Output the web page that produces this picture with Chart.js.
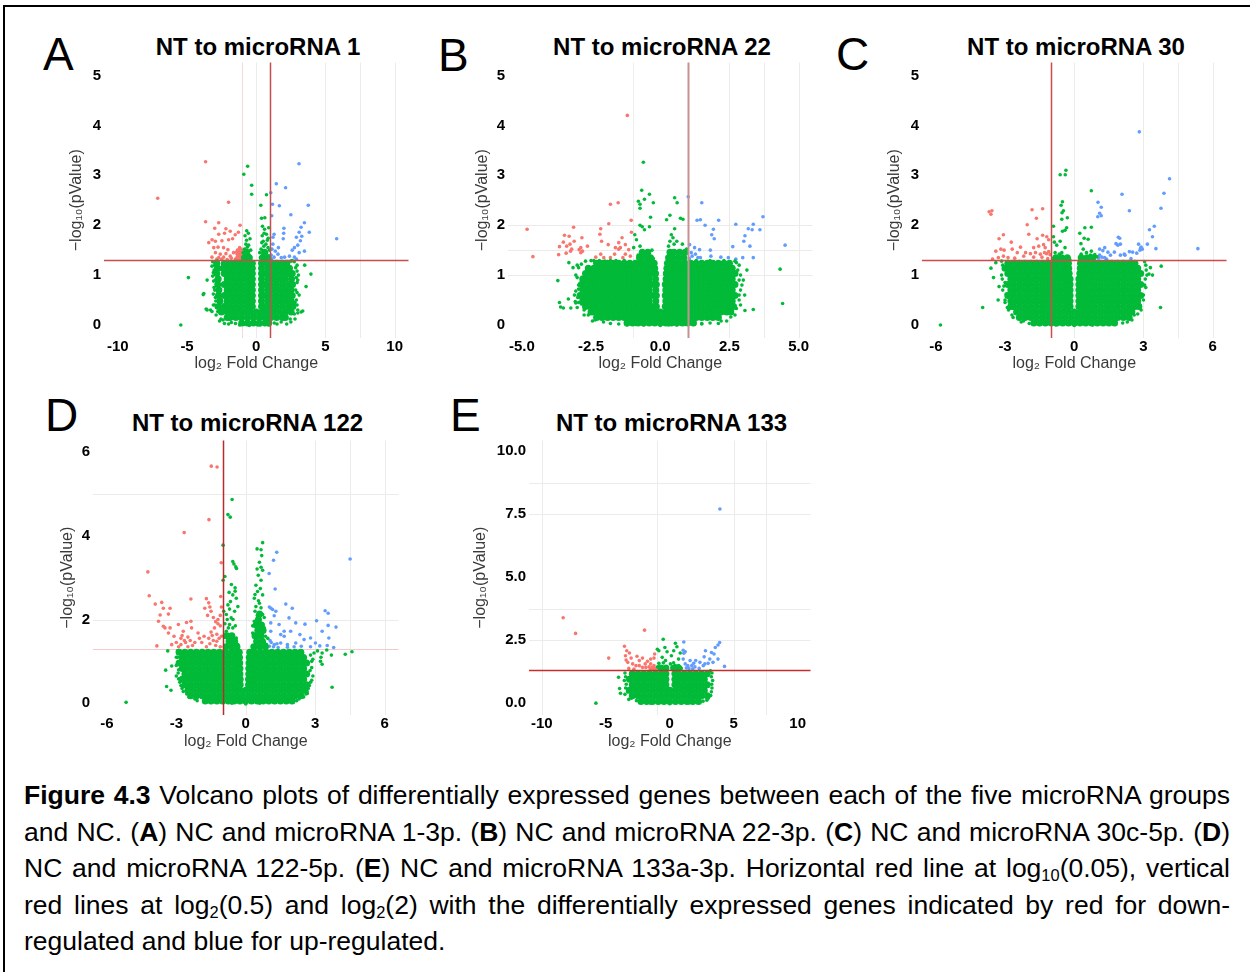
<!DOCTYPE html>
<html>
<head>
<meta charset="utf-8">
<script src="https://cdn.jsdelivr.net/npm/chart.js@4.4.1/dist/chart.umd.min.js"></script>
<style>
  html, body { margin: 0; padding: 0; background: #fff; }
  body { width: 1250px; height: 972px; position: relative; overflow: hidden;
         font-family: "Liberation Sans", Arial, sans-serif; color: #000; }
  .frame { position: absolute; left: 3px; top: 5px; width: 1260px; height: 980px;
           border-top: 2px solid #000; border-left: 2px solid #000; }
  .letter { position: absolute; font-size: 46px; line-height: 46px; }
  .ptitle { position: absolute; width: 400px; text-align: center; font-size: 24px;
            line-height: 24px; font-weight: bold; white-space: nowrap; }
  canvas { position: absolute; }
  .caption { position: absolute; left: 24px; top: 777px; width: 1206px;
             font-size: 26.5px; line-height: 36.6px; }
  .caption div { text-align: justify; text-align-last: justify; white-space: nowrap; height: 36.6px; }
  .caption div.last { text-align-last: left; }
  .caption sub { font-size: 0.62em; line-height: 0; vertical-align: -0.22em; }
</style>
</head>
<body>
<div class="frame"></div>

<div class="caption">
  <div><b>Figure 4.3</b> Volcano plots of differentially expressed genes between each of the five microRNA groups</div>
  <div>and NC. (<b>A</b>) NC and microRNA 1-3p. (<b>B</b>) NC and microRNA 22-3p. (<b>C</b>) NC and microRNA 30c-5p. (<b>D</b>)</div>
  <div>NC and microRNA 122-5p. (<b>E</b>) NC and microRNA 133a-3p. Horizontal red line at log<sub>10</sub>(0.05), vertical</div>
  <div>red lines at log<sub>2</sub>(0.5) and log<sub>2</sub>(2) with the differentially expressed genes indicated by red for down-</div>
  <div class="last">regulated and blue for up-regulated.</div>
</div>

<script>
// ---- thresholds ----
const pCut = -Math.log10(0.05);      // p = 0.05
const fcDown = -1, fcUp = 1;         // log2(0.5), log2(2)

// ---- axis ticks ----
const xTicksA = [-10, -5, 0, 5, 10], yTicksA = [0, 1, 2, 3, 4, 5];
const xTicksB = [-5, -2.5, 0, 2.5, 5], yTicksB = [0, 1, 2, 3, 4, 5];
const xTicksC = [-6, -3, 0, 3, 6],   yTicksC = [0, 1, 2, 3, 4, 5];
const xTicksD = [-6, -3, 0, 3, 6],   yTicksD = [0, 2, 4, 6];
const xTicksE = [-10, -5, 0, 5, 10], yTicksE = [0, 2.5, 5, 7.5, 10];

// ---- genes: dense non-significant bulk, rows of [-log10 p, log2FC...] ----
const coreA = [
  [0.04,-1.05,-0.63,-0.21,0.21,0.63,0.9],
  [0.15,-2.1,-1.89,-1.47,-1.05,-0.63,-0.21,0.21,0.63,1.05,1.47,1.89,2.1],
  [0.26,-2.52,-2.1,-1.68,-1.26,-0.84,-0.42,0,0.42,0.84,1.26,1.68,2.1,2.52],
  [0.37,-2.73,-2.31,-1.89,-1.47,-1.05,-0.63,-0.28,0.38,0.63,1.05,1.47,1.89,2.31,2.65],
  [0.48,-2.62,-2.1,-1.68,-1.26,-0.84,-0.42,-0.28,0.38,0.84,1.26,1.68,2.1,2.52],
  [0.59,-2.73,-2.31,-1.89,-1.47,-1.05,-0.63,-0.28,0.38,0.63,1.05,1.47,1.89,2.31,2.6],
  [0.70,-2.7,-2.1,-1.68,-1.26,-0.84,-0.42,-0.28,0.38,0.84,1.26,1.68,2.1,2.52],
  [0.81,-2.78,-2.31,-1.89,-1.47,-1.05,-0.63,-0.28,0.38,0.63,1.05,1.47,1.89,2.31,2.62],
  [0.92,-2.75,-2.1,-1.68,-1.26,-0.84,-0.42,-0.28,0.38,0.84,1.26,1.68,2.1,2.55],
  [1.03,-2.85,-2.31,-1.89,-1.47,-1.05,-0.63,-0.28,0.38,0.63,1.05,1.47,1.89,2.31,2.6],
  [1.14,-2.8,-2.4,-2.1,-1.68,-1.26,-0.84,-0.42,-0.28,0.38,0.84,1.26,1.68,2.1,2.4],
  [1.24,-2.85,-2.31,-1.89,-1.47,-1.05,-0.63,-0.28,0.38,0.63,1.05,1.47,1.89,2.2],
  [1.35,-0.85,-0.5,0.45,0.85],
  [1.46,-0.7,0.6]
];
const coreB = [
  [0.04,-1.2,-1,-0.8,-0.6,-0.4,-0.2,0,0.2,0.4,0.6,0.8,1,1.2],
  [0.15,-2.3,-2.1,-1.9,-1.7,-1.5,-1.3,-1.1,-0.9,-0.7,-0.5,-0.3,-0.1,0.1,0.3,0.5,0.7,0.9,1.1,1.3,1.5,1.7,1.9,2.1],
  [0.26,-2.5,-2.4,-2.2,-2,-1.8,-1.6,-1.4,-1.2,-1,-0.8,-0.6,-0.4,-0.2,0,0.2,0.4,0.6,0.8,1,1.2,1.4,1.6,1.8,2,2.2,2.4,2.55],
  [0.37,-2.7,-2.5,-2.3,-2.1,-1.9,-1.7,-1.5,-1.3,-1.1,-0.9,-0.7,-0.5,-0.3,-0.14,0.18,0.3,0.5,0.7,0.9,1.1,1.3,1.5,1.7,1.9,2.1,2.3,2.5,2.65],
  [0.48,-2.8,-2.6,-2.4,-2.2,-2,-1.8,-1.6,-1.4,-1.2,-1,-0.8,-0.6,-0.4,-0.16,0.2,0.4,0.6,0.8,1,1.2,1.4,1.6,1.8,2,2.2,2.4,2.6],
  [0.59,-2.9,-2.7,-2.5,-2.3,-2.1,-1.9,-1.7,-1.5,-1.3,-1.1,-0.9,-0.7,-0.5,-0.3,-0.14,0.18,0.3,0.5,0.7,0.9,1.1,1.3,1.5,1.7,1.9,2.1,2.3,2.5,2.7],
  [0.70,-2.8,-2.6,-2.4,-2.2,-2,-1.8,-1.6,-1.4,-1.2,-1,-0.8,-0.6,-0.4,-0.16,0.2,0.4,0.6,0.8,1,1.2,1.4,1.6,1.8,2,2.2,2.4,2.6],
  [0.81,-2.85,-2.7,-2.5,-2.3,-2.1,-1.9,-1.7,-1.5,-1.3,-1.1,-0.9,-0.7,-0.5,-0.3,-0.14,0.18,0.3,0.5,0.7,0.9,1.1,1.3,1.5,1.7,1.9,2.1,2.3,2.5,2.7],
  [0.92,-2.8,-2.6,-2.4,-2.2,-2,-1.8,-1.6,-1.4,-1.2,-1,-0.8,-0.6,-0.4,-0.17,0.21,0.4,0.6,0.8,1,1.2,1.4,1.6,1.8,2,2.2,2.4,2.6],
  [1.03,-2.7,-2.5,-2.3,-2.1,-1.9,-1.7,-1.5,-1.3,-1.1,-0.9,-0.7,-0.5,-0.3,-0.17,0.22,0.35,0.5,0.7,0.9,1.1,1.3,1.5,1.7,1.9,2.1,2.3,2.5,2.7],
  [1.14,-2.6,-2.4,-2.2,-2,-1.8,-1.6,-1.4,-1.2,-1,-0.8,-0.6,-0.4,-0.2,0.24,0.4,0.6,0.8,1,1.2,1.4,1.6,1.8,2,2.2,2.4,2.6],
  [1.24,-2.3,-2.1,-1.9,-1.7,-1.5,-1.3,-1.1,-0.9,-0.7,-0.5,-0.35,-0.22,0.26,0.38,0.5,0.7,0.9,1.1,1.3,1.5,1.7,1.9,2.1,2.3,2.5],
  [1.35,-0.75,-0.55,-0.35,0.3,0.45,0.65,0.85],
  [1.46,-0.65,-0.45,0.35,0.5,0.7,0.9]
];
const coreC = [
  [0.04,-1.75,-1.5,-1.25,-1,-0.75,-0.5,-0.25,0,0.25,0.5,0.75,1,1.25,1.5,1.75],
  [0.15,-2.38,-2.13,-1.88,-1.63,-1.38,-1.13,-0.88,-0.63,-0.38,-0.13,0.13,0.38,0.63,0.88,1.13,1.38,1.63,1.88,2.13,2.38],
  [0.26,-2.5,-2.25,-2,-1.75,-1.5,-1.25,-1,-0.75,-0.5,-0.25,0,0.25,0.5,0.75,1,1.25,1.5,1.75,2,2.25,2.5],
  [0.37,-2.75,-2.63,-2.38,-2.13,-1.88,-1.63,-1.38,-1.13,-0.88,-0.63,-0.38,-0.18,0.2,0.38,0.63,0.88,1.13,1.38,1.63,1.88,2.13,2.38,2.63,2.8],
  [0.48,-2.75,-2.5,-2.25,-2,-1.75,-1.5,-1.25,-1,-0.75,-0.5,-0.32,-0.18,0.2,0.34,0.5,0.75,1,1.25,1.5,1.75,2,2.25,2.5,2.75],
  [0.59,-2.88,-2.63,-2.38,-2.13,-1.88,-1.63,-1.38,-1.13,-0.88,-0.63,-0.38,-0.18,0.2,0.38,0.63,0.88,1.13,1.38,1.63,1.88,2.13,2.38,2.63,2.88],
  [0.70,-2.75,-2.5,-2.25,-2,-1.75,-1.5,-1.25,-1,-0.75,-0.5,-0.32,-0.18,0.2,0.34,0.5,0.75,1,1.25,1.5,1.75,2,2.25,2.5,2.75],
  [0.81,-2.88,-2.63,-2.38,-2.13,-1.88,-1.63,-1.38,-1.13,-0.88,-0.63,-0.38,-0.18,0.2,0.38,0.63,0.88,1.13,1.38,1.63,1.88,2.13,2.38,2.63,2.88],
  [0.92,-2.75,-2.5,-2.25,-2,-1.75,-1.5,-1.25,-1,-0.75,-0.5,-0.32,-0.18,0.2,0.34,0.5,0.75,1,1.25,1.5,1.75,2,2.25,2.5,2.75],
  [1.03,-2.88,-2.63,-2.38,-2.13,-1.88,-1.63,-1.38,-1.13,-0.88,-0.63,-0.4,-0.22,0.24,0.42,0.63,0.88,1.13,1.38,1.63,1.88,2.13,2.38,2.63,2.88],
  [1.14,-3,-2.75,-2.5,-2.25,-2,-1.75,-1.5,-1.25,-1,-0.75,-0.5,-0.38,-0.24,0.26,0.4,0.5,0.75,1,1.25,1.5,1.75,2,2.25,2.5,2.75],
  [1.24,-2.88,-2.63,-2.38,-2.13,-1.88,-1.63,-1.38,-1.13,-0.88,-0.63,-0.42,-0.25,0.27,0.44,0.63,0.88,1.13,1.38,1.63,1.88,2.13,2.38,2.63],
  [1.35,-0.8,-0.55,-0.3,0.3,0.55,0.8]
];
const coreD = [
  [0.05,-1.75,-1.5,-1.25,-1,-0.75,-0.5,-0.25,0,0.25,0.5,0.75,1,1.25,1.5,1.75,2],
  [0.18,-2.38,-2.13,-1.88,-1.63,-1.38,-1.13,-0.88,-0.63,-0.38,-0.13,0.13,0.38,0.63,0.88,1.13,1.38,1.63,1.88,2.13,2.38],
  [0.31,-2.5,-2.25,-2,-1.75,-1.5,-1.25,-1,-0.75,-0.5,-0.25,0,0.25,0.5,0.75,1,1.25,1.5,1.75,2,2.25,2.5],
  [0.44,-2.63,-2.38,-2.13,-1.88,-1.63,-1.38,-1.13,-0.88,-0.63,-0.38,-0.24,0.12,0.28,0.38,0.63,0.88,1.13,1.38,1.63,1.88,2.13,2.38,2.63],
  [0.57,-2.75,-2.5,-2.25,-2,-1.75,-1.5,-1.25,-1,-0.75,-0.5,-0.36,-0.24,0.12,0.28,0.5,0.75,1,1.25,1.5,1.75,2,2.25,2.5],
  [0.70,-2.63,-2.38,-2.13,-1.88,-1.63,-1.38,-1.13,-0.88,-0.63,-0.38,-0.25,0.13,0.28,0.38,0.63,0.88,1.13,1.38,1.63,1.88,2.13,2.38,2.63],
  [0.83,-2.75,-2.5,-2.25,-2,-1.75,-1.5,-1.25,-1,-0.75,-0.5,-0.36,-0.25,0.13,0.28,0.5,0.75,1,1.25,1.5,1.75,2,2.25,2.5],
  [0.96,-2.88,-2.63,-2.38,-2.13,-1.88,-1.63,-1.38,-1.13,-0.88,-0.63,-0.38,-0.26,0.14,0.3,0.38,0.63,0.88,1.13,1.38,1.63,1.88,2.13,2.38,2.63],
  [1.09,-2.75,-2.5,-2.25,-2,-1.75,-1.5,-1.25,-1,-0.75,-0.5,-0.38,-0.27,0.15,0.3,0.5,0.75,1,1.25,1.5,1.75,2,2.25,2.5],
  [1.22,-2.88,-2.63,-2.38,-2.13,-1.88,-1.63,-1.38,-1.13,-0.88,-0.63,-0.4,-0.28,0.17,0.32,0.38,0.63,0.88,1.13,1.38,1.63,1.88,2.13,2.38],
  [1.35,-0.85,-0.6,-0.38,0.35,0.6,0.85],
  [1.48,-0.72,-0.48,0.47,0.72],
  [1.61,-0.85,-0.6,0.4,0.65],
  [1.74,0.52,0.75],
  [1.87,0.45,0.68],
  [2.0,0.55],
  [2.13,0.6]
];
const coreE = [
  [0.07,-2.25,-1.8,-1.35,-0.9,-0.45,0,0.45,0.9,1.35,1.8,2.25],
  [0.29,-2.93,-2.48,-2.03,-1.58,-1.13,-0.68,-0.23,0.23,0.68,1.13,1.58,2.03,2.48,2.93],
  [0.51,-3.15,-2.7,-2.25,-1.8,-1.35,-0.9,-0.45,0,0.45,0.9,1.35,1.8,2.25,2.7],
  [0.73,-2.93,-2.48,-2.03,-1.58,-1.13,-0.68,-0.3,0.4,0.68,1.13,1.58,2.03,2.48,2.93],
  [0.95,-3.15,-2.7,-2.25,-1.8,-1.35,-0.9,-0.55,-0.3,0.4,0.65,0.9,1.35,1.8,2.25,2.7],
  [1.17,-2.93,-2.48,-2.03,-1.58,-1.13,-0.68,-0.3,0.4,0.68,1.13,1.58,2.03,2.48,2.93],
  [1.4,-0.7,-0.3,0.3,0.7]
];

// ---- genes: scattered non-significant points, flat [log2FC, -log10 p, ...] ----
const greenA = [-0.62,3.18,-0.9,3.02,-0.33,2.8,-0.33,2.62,0.74,2.61,0.33,2.4,0.38,2.14,0.62,2.15,-0.69,1.89,-0.57,1.84,-0.81,1.79,-0.45,1.73,0.57,1.84,0.43,1.79,0.74,1.82,0.86,1.74,
  -0.9,1.35,-0.8,1.42,-0.7,1.36,-0.6,1.48,-0.5,1.4,-0.85,1.52,-0.65,1.56,-0.45,1.33,-0.75,1.62,-0.55,1.6,-0.95,1.45,-0.4,1.5,-0.7,1.7,
  0.3,1.35,0.45,1.4,0.6,1.33,0.75,1.45,0.9,1.38,0.35,1.52,0.55,1.58,0.7,1.62,0.85,1.55,0.5,1.68,0.95,1.5,0.25,1.45,0.65,1.48,0.4,1.65,0.8,1.7,0.6,1.92,0.9,1.95,0.45,1.98,
  -3,1.2,-3.1,1.05,-2.95,0.9,-3.05,0.75,-2.95,0.55,-3,0.4,-2.9,0.2,-2.8,1.28,-2.65,0.08,-2.3,0.03,-2,0.02,
  -3.15,1.27,-3.2,1.18,-3.05,1.1,-3.15,0.98,-3.08,0.88,-3,0.7,-3.1,0.62,-2.92,0.48,-2.88,0.35,-2.78,0.27,-2.55,0.12,-2.4,0.1,-1.8,0.05,-1.5,0.03,
  2.95,1.2,3.05,1,2.95,0.85,3.1,0.6,2.9,0.5,3,0.3,2.8,0.12,2.5,0.06,2.2,0.02,2.75,1.27,2.5,1.28,
  2.6,1.29,2.85,1.15,2.95,1.08,2.9,0.95,3,0.9,2.85,0.7,2.95,0.65,2.8,0.45,2.95,0.4,2.75,0.22,2.45,0.12,1.8,0.06,1.3,0.04,
  -1.2,0,-0.5,-0.01,0.3,0,0.9,0,1.5,0.02,-0.9,0.01,0.1,0,0.6,0.01,
  -5.45,0,-4.9,0.95,-3.83,0.61,-3.55,0.9,-3.62,0.32,-3.3,0.3,-3.1,0.4,-3.79,0.63,-3.55,0.3,-3.2,0.27,3.95,1.02,3.6,0.77,3.36,0.28,3,0.24,3.24,0.26,3.5,1.2];
const greenB = [-0.61,3.26,-0.67,2.7,-0.39,2.62,-0.57,2.52,-0.25,2.45,-0.73,2.42,-0.79,2.48,-0.73,2.34,0.52,2.55,0.61,2.45,0.35,2.2,0.23,2.11,0.73,2.14,0.82,2.12,-0.35,2.16,
  -0.73,2,-0.65,1.97,-0.57,1.91,-0.39,1.97,0.52,1.93,0.4,1.81,0.46,1.75,0.35,1.68,-0.92,1.81,-0.86,1.71,-0.73,1.58,-0.67,1.48,-0.96,1.55,-0.8,1.4,-0.25,1.33,-0.3,1.5,
  0.95,1.52,0.3,1.58,0.5,1.62,0.8,1.62,0.6,1.68,
  -3,1.2,-3.05,1,-2.95,0.8,-3.1,0.6,-2.95,0.45,-3,0.35,-2.75,0.2,-2.45,0.08,-2.7,1.28,-2.5,1.29,-2.2,1.29,-1.8,1.29,
  -2.95,1.15,-2.85,1.22,-3,0.95,-2.95,0.72,-3.05,0.68,-2.98,0.55,-2.85,0.42,-2.75,0.3,-2.6,0.2,-2.35,0.1,-2.05,0.06,-2.4,1.29,-2,1.28,-1.6,1.29,-1.3,1.29,
  2.85,1.2,2.9,1,2.95,0.8,2.85,0.6,2.9,0.4,2.7,0.2,2.4,0.08,2.1,0.03,2.7,1.28,
  2.75,1.25,2.8,1.1,2.85,0.9,2.9,0.7,2.85,0.5,2.75,0.33,2.55,0.16,2.2,0.08,1.5,0.03,1.3,1.29,1.8,1.29,2.3,1.29,
  -1.8,0.03,-1.2,0,-0.6,0,0,-0.01,0.6,0,1.2,0.01,1.8,0.04,-1.5,0.02,-0.9,0.01,0.3,0,0.9,0.01,1.5,0.02,
  -3.7,0.89,-3.64,0.45,-3.6,0.36,-3.5,0.34,-3.32,0.52,-3.07,0.47,-3.05,0.44,-3.23,0.34,-2.55,0.33,-3.3,1.25,-3.15,1.15,
  4.33,1.12,4.42,0.43,3.36,0.31,3.06,0.29,3.13,1.1,3,0.9,3.05,0.6];
const greenC = [-0.36,3.1,-0.61,3.01,-0.39,3.01,0.74,2.69,-0.51,2.47,-0.57,2.4,-0.47,2.29,-0.53,2.25,-0.3,2.15,-0.54,2.12,-0.9,1.98,-0.4,1.9,-0.51,1.88,-0.33,1.95,
  0.46,1.95,0.74,1.96,0.24,1.84,0.43,1.74,0.6,1.72,0.29,1.63,-0.9,1.77,-0.86,1.66,-0.76,1.6,-0.61,1.68,-0.4,1.55,-0.54,1.45,-0.83,1.45,
  0.39,1.52,0.53,1.45,0.74,1.48,0.89,1.41,0.98,1.37,-0.9,1.33,-0.65,1.42,-0.2,1.32,0.7,1.4,0.3,1.42,
  -3.1,1.2,-3.15,1,-3,0.85,-3.1,0.7,-3,0.5,-2.9,0.35,-2.7,0.2,-2.3,0.06,-3.4,1.25,
  -3.15,1.28,-3.05,1.12,-3.12,0.92,-3.05,0.78,-2.95,0.62,-3,0.45,-2.85,0.3,-2.65,0.15,-2.2,0.08,-1.95,0.03,
  3.1,1.2,3.15,1,3.05,0.8,3,0.6,2.85,0.4,2.6,0.2,2.3,0.06,3.3,1.15,
  3.05,1.27,3.12,1.1,3.08,0.92,3.1,0.75,3,0.5,2.9,0.3,2.75,0.22,2.5,0.1,2.1,0.04,
  -1.5,0.01,-0.8,0,0,-0.01,0.8,0,1.5,0.02,
  -5.8,0,-3.97,0.35,-3.61,1.14,3.74,0.35,3.77,1.18,3.39,1,3.24,1.02,-3.26,0.77,-3.5,0.95,-3.3,0.5];
const greenD = [-0.59,4.87,-0.77,4.51,-0.67,4.45,-0.98,3.78,-0.56,3.39,-0.51,3.33,-0.43,3.26,-0.4,3.22,-0.98,2.94,-0.9,3.03,-0.62,2.84,-0.46,2.76,-0.46,2.68,-0.72,2.65,
  -0.56,2.59,-0.41,2.51,-0.66,2.43,-0.34,2.31,-0.77,2.35,-0.48,2.2,-0.84,2.12,-0.63,2.04,-0.7,1.88,-0.56,1.8,-0.84,1.72,-0.41,1.56,-0.7,1.48,-0.34,1.4,
  -0.9,1.6,-0.75,1.65,-0.45,1.85,-0.9,1.9,-0.8,2,-0.55,2,-0.95,2.2,-0.7,2.25,-0.4,1.35,-0.75,1.8,
  0.73,3.84,0.49,3.69,0.66,3.67,0.69,3.53,0.59,3.37,0.66,3.25,0.49,3.21,0.73,3.18,0.54,3.06,0.66,2.94,0.44,2.82,0.63,2.74,0.51,2.67,0.73,2.59,0.37,2.51,
  0.59,2.39,0.44,2.31,0.66,2.28,0.4,2.2,0.73,2.12,0.51,2.04,0.37,1.96,0.66,1.88,0.8,1.8,0.3,1.68,0.8,1.45,0.85,1.6,0.3,1.85,0.6,1.95,0.5,2.1,0.8,2.05,
  0.55,2.45,0.4,2.6,0.9,1.4,0.95,1.55,
  -2.95,1.25,-3,1.1,-2.95,0.95,-2.9,0.8,-3,0.65,-2.85,0.5,-2.75,0.35,-2.55,0.22,-2.2,0.1,
  -2.95,1.1,-3,0.9,-2.92,0.72,-2.9,0.58,-2.8,0.42,-2.7,0.28,-2.45,0.14,-2.1,0.06,-1.5,0.02,
  2.95,1.2,2.9,1.05,2.85,0.85,2.9,0.65,2.8,0.5,2.7,0.35,2.6,0.22,2.3,0.1,3.1,1.25,3.3,1.2,3.5,1.27,3.7,1.15,3.25,1.1,
  2.8,1.15,2.85,1,2.78,0.78,2.85,0.55,2.75,0.42,2.65,0.28,2.5,0.15,2.2,0.06,
  -1.2,0.02,-0.6,0,0,-0.02,0.6,0,1.2,0.02,
  -5.17,0.02,-3.37,1.25,-3.46,0.79,-3.42,0.4,-3.23,0.31,-3.2,0.89,4.3,1.17,4.59,1.23,3.73,0.38,3.3,0.93,3.23,1,2.63,0.32,2.66,0.23];
const greenE = [-0.51,2.54,-0.97,2.14,-0.85,2.08,-0.38,2.21,-0.21,2.04,0.44,2.38,0.56,2.24,0.31,2.08,0.82,1.99,0.13,1.88,0.69,1.75,-0.59,1.82,-0.33,1.69,-0.85,1.58,
  0.05,1.56,0.44,1.49,-0.95,1.44,0.69,1.49,-0.6,1.4,-0.5,1.6,0.3,1.6,0.9,1.38,-0.2,1.38,
  -3.5,1.2,-3.55,0.9,-3.45,0.6,-3.5,0.35,-3.2,0.15,3.3,1.2,3.35,0.9,3.3,0.6,3.2,0.3,2.9,0.12,
  -3.45,1.05,-3.4,0.75,-3.3,0.45,-3,0.2,-2.6,0.1,3.25,1.05,3.28,0.75,3.25,0.45,3,0.2,2.6,0.08,
  -1.5,0,0,-0.02,1.5,0.01,-5.77,0,-4,1.03,-3.92,0.58,-3.85,0.39,3.18,1.29];

// ---- down-regulated genes (log2FC < -1, p < 0.05) ----
const downA = [-3.66,3.27,-7.12,2.54,-2,2.46,-3.66,2.07,-2.71,2.05,-3,1.94,-2.19,1.93,-2.29,1.84,-2.71,1.82,-1.29,1.86,-1.17,2,-1.88,1.88,-1.52,1.81,
  -3.43,1.65,-3.19,1.71,-2.95,1.68,-2.48,1.69,-2,1.71,-1.71,1.73,-3.07,1.55,-2.76,1.56,-2.36,1.55,-2.05,1.51,-2.95,1.45,-2.6,1.42,-2.19,1.43,
  -2.71,1.35,-2.36,1.36,-1.88,1.38,-1.64,1.45,-1.4,1.35,-1.3,1.4,-1.2,1.45,-1.1,1.38,-1.02,1.33,-1.35,1.5,-1.2,1.55,-1.05,1.48,-1.25,1.32,
  -1.03,1.42,-1.15,1.34,-1.38,1.42,-1.3,1.5,-1.1,1.52,-1.42,1.46,-1.18,1.4,-1.08,1.44,-1.28,1.36,-1.5,1.32,-1.8,1.34,-2.1,1.31,-2.5,1.32,-3.2,1.36,-2.85,1.32];
const downB = [-1.19,4.2,-4.81,1.92,-4.6,1.37,-1.8,2.42,-1.52,2.45,-3.13,1.96,-1.86,2.03,-2.15,1.93,-1.05,2.1,-3.46,1.8,-3.29,1.78,-3.11,1.68,-2.83,1.75,
  -2.63,1.58,-3.64,1.57,-3.38,1.58,-3.26,1.62,-3.2,1.52,-3.67,1.41,-3.24,1.48,-2.93,1.51,-2.87,1.45,-2.18,1.82,-2.12,1.68,-1.88,1.61,-1.62,1.55,
  -1.5,1.65,-1.38,1.75,-1.26,1.61,-1.14,1.51,-1.26,1.42,-1.08,1.38,-2.15,1.42,-2.04,1.35,-1.8,1.35,-1.5,1.52,-1.44,1.55,-2.87,1.55,-2.81,1.48,
  -2.33,1.36,-1.04,1.86,-3.5,1.66,-3.4,1.44,-1.65,1.42,-1.35,1.35];
const downC = [-3.69,2.27,-3.61,2.22,-3.57,2.29,-1.83,2.31,-1.37,2.33,-1.64,2.14,-2.04,2.01,-3.26,1.73,-3.07,1.81,-1.97,1.82,-1.61,1.73,-1.37,1.8,
  -1.19,1.77,-1.11,1.71,-2.73,1.66,-2.33,1.56,-1.76,1.55,-1.54,1.58,-1.33,1.61,-1.26,1.55,-3.4,1.48,-3.18,1.52,-3.04,1.5,-2.69,1.52,-2.11,1.45,
  -1.9,1.43,-1.68,1.45,-1.47,1.42,-1.29,1.45,-1.11,1.47,-3.29,1.35,-3.07,1.38,-2.87,1.35,-2.58,1.34,-2.19,1.38,-1.76,1.36,-1.4,1.36,-1.2,1.43,
  -2.47,1.45,-3.54,1.32,-1.05,1.41,-1.15,1.33];
const downD = [-1.49,5.67,-1.24,5.65,-1.59,4.39,-2.66,4.08,-4.23,3.14,-4.17,2.57,-1.06,3.36,-3.91,2.37,-3.63,2.41,-3.56,2.27,-3.27,2.27,-3.7,2.11,
  -3.34,2.13,-2.37,2.49,-2.37,1.96,-2.56,1.93,-3.77,1.96,-3.56,1.84,-3.27,1.8,-3.49,1.8,-3.34,1.68,-2.91,1.88,-2.7,1.72,-2.34,1.8,-2.06,1.68,
  -1.7,2.5,-1.6,2.4,-1.55,2.3,-1.5,2.2,-1.65,2.1,-1.4,2.05,-1.3,1.95,-1.2,1.9,-1.35,1.8,-1.5,1.7,-1.1,1.85,-1.2,2,-1.1,2.1,-1.25,1.65,-1.15,1.55,
  -1.05,1.6,-1.4,1.5,-1.6,1.55,-1.8,1.6,-1.9,1.45,-2,1.55,-2.2,1.45,-2.4,1.5,-2.6,1.45,-2.8,1.55,-3,1.45,-3.1,1.6,-3.2,1.4,-2.9,1.35,-2.5,1.35,
  -2.3,1.38,-1.7,1.35,-1.3,1.38,-1.1,1.35,-3.84,1.37,-2.8,1.4,-2.65,1.5,-2.5,1.58,-2.75,1.62,-1.55,1.42,-1.45,1.62,-1.25,1.48,-1.77,2.27,-1.05,2.3,-1.08,2.55];
const downE = [-8.33,3.39,-7.36,2.77,-1.97,2.9,-4.77,1.79,-3.54,2.26,-3.36,2.08,-3.15,1.99,-3.46,1.88,-3.02,1.79,-3.28,1.62,-2.9,1.56,-2.56,1.86,
  -2.38,1.69,-2.13,1.79,-1.92,1.56,-1.74,1.66,-1.49,1.75,-1.23,1.79,-1.18,1.95,-3.41,1.71,-2.64,1.49,-2.38,1.49,-2.13,1.42,-1.87,1.42,-1.62,1.44,
  -1.36,1.42,-1.23,1.49,-1.49,1.56,-1.4,1.37,-1.3,1.4,-1.2,1.35,-1.1,1.38,-1.5,1.35,-2.8,1.35,-3.2,1.38];

// ---- up-regulated genes (log2FC > 1, p < 0.05) ----
const upA = [3.09,3.23,1.45,2.83,2.12,2.75,1.05,2.65,1.17,2.42,1.67,2.39,3.76,2.4,2.5,2.21,1.12,2.19,2,1.94,3.48,2.05,3.24,1.96,3.83,1.86,3.1,1.86,
  2.9,1.76,3.29,1.78,3.19,1.69,2.76,1.55,1.98,1.84,1.95,1.73,1.29,1.82,1.21,1.76,1.14,1.52,1.38,1.48,1.57,1.42,2.05,1.36,2.76,1.36,3.1,1.45,
  3.48,1.48,1.81,1.35,1.29,1.36,5.81,1.73,2.6,1.5,2.4,1.38,1.6,1.55,3,1.6,2.9,1.32,1.08,1.4,1.2,1.62,1.1,1.32];
const upB = [1.01,2.57,1.5,2.45,1.33,2.1,1.45,2.11,1.62,2,2.11,2.1,1.92,1.92,1.86,1.81,1.95,1.73,2.73,2.02,3.36,2.02,3.18,1.93,3.32,1.91,3.6,1.91,
  3.71,2.17,3.06,1.79,3.02,1.68,3.24,1.58,2.62,1.57,4.51,1.6,1.24,1.55,1.42,1.51,1.12,1.45,1.27,1.42,1.36,1.35,1.45,1.35,1.06,1.61,1.81,1.5,
  1.83,1.38,2.19,1.36,2.46,1.35,2.73,1.32,2.98,1.35,3.36,1.35,1.15,1.38,1.05,1.33];
const upC = [2.82,3.87,4.13,2.93,3.89,2.64,2.07,2.62,3.76,2.34,2.39,2.29,1.03,2.46,1.17,2.36,1.1,2.24,1.17,2.19,1.02,2.17,3.47,1.98,3.26,1.91,
  3.39,1.77,1.91,1.76,1.97,1.74,1.81,1.63,2,1.62,1.89,1.6,2.79,1.62,3.17,1.62,3.54,1.53,2.85,1.5,2.9,1.56,2.95,1.52,2.88,1.54,5.36,1.53,
  1.1,1.52,1.32,1.55,1.24,1.49,1.46,1.46,1.74,1.46,2.17,1.42,2.53,1.46,2.71,1.44,2.39,1.47,1.1,1.4,1.2,1.36,1.32,1.35,1.57,1.4,2,1.4,2.2,1.4,
  2.46,1.33,1.4,1.32,1.05,1.34];
const upD = [4.51,3.45,1.34,3.61,1.2,3.42,1.01,3.1,1.27,2.73,1.02,2.3,1.16,2.24,1.3,2.2,1.23,2.09,1.09,2.27,1.73,2.37,2.01,2.27,3.43,2.21,3.56,2.15,
  3.9,1.82,3.56,1.86,2.56,1.89,3.06,1.97,1.87,2.04,2.16,1.92,1.08,1.92,1.44,1.88,1.66,1.72,1.51,1.64,1.08,1.72,1.94,1.72,2.34,1.64,2.8,1.56,
  3.3,1.72,3.59,1.56,3.01,1.44,2.52,1.52,2.16,1.44,1.8,1.4,1.51,1.44,1.23,1.4,1.02,1.36,1.8,1.34,2.09,1.35,2.4,1.36,2.8,1.35,3.2,1.37,3.52,1.38,
  3.8,1.33,1.66,1.6,1.1,1.45,1.2,1.35,1.35,1.42,1.4,1.33,1.05,1.5];
const upE = [3.92,7.71,1.1,2.43,1.05,2.1,1.21,2.04,1.1,1.98,3.9,2.41,3.77,2.31,3.56,2.21,3.26,2.01,3.46,1.95,3.77,1.75,3.13,1.75,2.79,2.08,2.69,1.84,
  3,1.58,3.38,1.62,2.74,1.56,4.28,1.46,2.62,1.49,2.36,1.62,2.03,1.69,1.87,1.58,1.59,1.69,1.41,1.49,1.21,1.56,1.72,1.49,1.97,1.44,1.05,1.75,
  1.3,1.4,1.5,1.38,1.8,1.36,2.3,1.38];

// ---- drawing ----
const GREEN = '#00ba38', RED = '#f8766d', BLUE = '#619cff';
const FONT = '"Liberation Sans", Arial, sans-serif';
Chart.defaults.font.family = FONT;

const pairs = a => { const out = []; for (let i = 0; i < a.length; i += 2) out.push({ x: a[i], y: a[i + 1] }); return out; };
const rows = t => t.flatMap(r => r.slice(1).map(x => ({ x, y: r[0] })));

// reference lines: light grid under the points, threshold lines over them
function makeGuides(g) {
  const stroke = (chart, set, color, width) => {
    if (!set) return;
    const { ctx, chartArea: a, scales: { x, y } } = chart;
    ctx.save();
    ctx.strokeStyle = color; ctx.lineWidth = width;
    ctx.beginPath();
    (set.x || []).forEach(v => { const p = Math.round(x.getPixelForValue(v)) + 0.5; ctx.moveTo(p, a.top); ctx.lineTo(p, a.bottom); });
    (set.y || []).forEach(v => { const p = Math.round(y.getPixelForValue(v)) + 0.5; ctx.moveTo(a.left, p); ctx.lineTo(a.right, p); });
    ctx.stroke();
    ctx.restore();
  };
  return {
    id: 'guides',
    beforeDatasetsDraw(chart) { stroke(chart, g.grid, '#ebebeb', 1); stroke(chart, g.pale, g.paleColor, 1); },
    afterDatasetsDraw(chart) { stroke(chart, g.red, g.redColor, g.redWidth); }
  };
}

const panels = [
  { letter: 'A', letterAt: [43, 31], title: 'NT to microRNA 1', titleY: 46.5,
    plot: [104, 59, 412, 338], yTitleX: 77, xTitleY: 363,
    xRange: [-11, 11], yRange: [-0.26, 5.26], xTicks: xTicksA, yTicks: yTicksA, xDec: 0, yDec: 0,
    core: coreA, green: greenA, down: downA, up: upA,
    guides: { grid: { x: [0, 5, 7.5, 10] }, pale: { x: [fcDown] }, paleColor: '#f2dada',
              red: { x: [fcUp], y: [pCut] }, redColor: '#c84e4e', redWidth: 1.5 } },
  { letter: 'B', letterAt: [438, 32], title: 'NT to microRNA 22', titleY: 46.5,
    plot: [508, 59, 816, 338], yTitleX: 483, xTitleY: 363,
    xRange: [-5.5, 5.5], yRange: [-0.26, 5.26], xTicks: xTicksB, yTicks: yTicksB, xDec: 1, yDec: 0,
    core: coreB, green: greenB, down: downB, up: upB,
    guides: { grid: { x: [2.5, 3.75, 5], y: [1, 1.5, 2] }, pale: { x: [fcDown] }, paleColor: '#eeeeee',
              red: { x: [fcUp] }, redColor: '#c79191', redWidth: 2 } },
  { letter: 'C', letterAt: [836, 31], title: 'NT to microRNA 30', titleY: 46.5,
    plot: [922, 59, 1230, 338], yTitleX: 895, xTitleY: 363,
    xRange: [-6.6, 6.6], yRange: [-0.26, 5.26], xTicks: xTicksC, yTicks: yTicksC, xDec: 0, yDec: 0,
    core: coreC, green: greenC, down: downC, up: upC,
    guides: { grid: { x: [0, 3, 4.5, 6] },
              red: { x: [fcDown], y: [pCut] }, redColor: '#d24a4a', redWidth: 1.5 } },
  { letter: 'D', letterAt: [45, 392], title: 'NT to microRNA 122', titleY: 423,
    plot: [93, 437, 402, 715], yTitleX: 68, xTitleY: 741,
    xRange: [-6.6, 6.6], yRange: [-0.283, 6.283], xTicks: xTicksD, yTicks: yTicksD, xDec: 0, yDec: 0,
    core: coreD, green: greenD, down: downD, up: upD,
    guides: { grid: { x: [0, 3, 4.5, 6], y: [2, 5] }, pale: { y: [pCut] }, paleColor: '#f3c9c9',
              red: { x: [fcDown] }, redColor: '#b82c2c', redWidth: 1.5 } },
  { letter: 'E', letterAt: [450, 392], title: 'NT to microRNA 133', titleY: 423,
    plot: [529, 437, 814, 715], yTitleX: 481, xTitleY: 741,
    xRange: [-11, 11], yRange: [-0.47, 10.43], xTicks: xTicksE, yTicks: yTicksE, xDec: 0, yDec: 1,
    core: coreE, green: greenE, down: downE, up: upE,
    guides: { grid: { x: [-10, 5, 7.5], y: [2.5, 3.75, 7.5, 8.75] }, pale: { x: [fcDown] }, paleColor: '#ececec',
              red: { y: [pCut] }, redColor: '#c92c2c', redWidth: 1.5 } }
];

function build(p) {
  const [l, t, r, b] = p.plot;
  const cl = Math.round(p.yTitleX - 9.6), cb = Math.round(p.xTitleY + 9.6);
  const yW = l - cl, xH = cb - b;

  const letter = document.createElement('div');
  letter.className = 'letter'; letter.textContent = p.letter;
  letter.style.left = p.letterAt[0] + 'px'; letter.style.top = p.letterAt[1] + 'px';
  document.body.appendChild(letter);

  const title = document.createElement('div');
  title.className = 'ptitle'; title.textContent = p.title;
  title.style.left = ((l + r) / 2 - 200) + 'px'; title.style.top = (p.titleY - 11.7) + 'px';
  document.body.appendChild(title);

  const cv = document.createElement('canvas');
  cv.width = r - cl; cv.height = cb - t;
  cv.style.left = cl + 'px'; cv.style.top = t + 'px';
  document.body.appendChild(cv);

  const tickFont = { size: 15, weight: 'bold', family: FONT };
  const titleFont = { size: 16, family: FONT };

  new Chart(cv, {
    type: 'scatter',
    data: { datasets: [
      { data: rows(p.core), backgroundColor: GREEN, pointRadius: 3.5 },
      { data: pairs(p.green), backgroundColor: GREEN, pointRadius: 1.8 },
      { data: pairs(p.down), backgroundColor: RED, pointRadius: 1.8 },
      { data: pairs(p.up), backgroundColor: BLUE, pointRadius: 1.8 }
    ] },
    options: {
      responsive: false, animation: false, devicePixelRatio: 1, events: [],
      layout: { padding: 0 },
      elements: { point: { borderWidth: 0, hoverRadius: 0 } },
      plugins: { legend: { display: false }, tooltip: { enabled: false } },
      scales: {
        x: {
          type: 'linear', min: p.xRange[0], max: p.xRange[1],
          afterBuildTicks: s => { s.ticks = p.xTicks.map(v => ({ value: v })); },
          afterFit: s => { s.height = xH; s.paddingLeft = 0; s.paddingRight = 0; },
          ticks: { callback: v => Number(v).toFixed(p.xDec), font: tickFont, color: '#000',
                   padding: 0, maxRotation: 0, autoSkip: false },
          grid: { display: false, drawTicks: false }, border: { display: false },
          title: { display: true, text: 'log₂ Fold Change', font: titleFont, color: '#3a3a3a', padding: 0 }
        },
        y: {
          type: 'linear', min: p.yRange[0], max: p.yRange[1],
          afterBuildTicks: s => { s.ticks = p.yTicks.map(v => ({ value: v })); },
          afterFit: s => { s.width = yW; s.paddingTop = 0; s.paddingBottom = 0; },
          ticks: { callback: v => Number(v).toFixed(p.yDec), font: tickFont, color: '#000',
                   padding: 3, autoSkip: false },
          grid: { display: false, drawTicks: false }, border: { display: false },
          title: { display: true, text: '−log₁₀(pValue)', font: titleFont, color: '#3a3a3a', padding: 0 }
        }
      }
    },
    plugins: [makeGuides(p.guides)]
  });
}

panels.forEach(build);
</script>
</body>
</html>
